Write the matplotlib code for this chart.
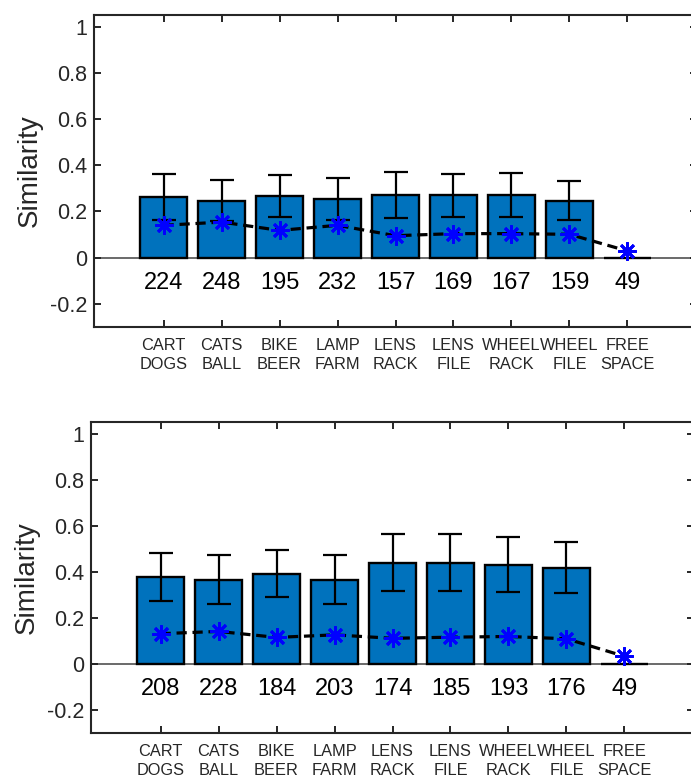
import matplotlib
matplotlib.use("Agg")
import matplotlib.pyplot as plt
import numpy as np

plt.rcParams['font.family'] = ['Liberation Sans', 'DejaVu Sans']

categories = ["CART\nDOGS", "CATS\nBALL", "BIKE\nBEER", "LAMP\nFARM", "LENS\nRACK",
              "LENS\nFILE", "WHEEL\nRACK", "WHEEL\nFILE", "FREE\nSPACE"]

top_means = [0.263, 0.247, 0.266, 0.253, 0.271, 0.271, 0.271, 0.247, 0.0]
top_err = [0.098, 0.088, 0.092, 0.090, 0.100, 0.093, 0.095, 0.083, 0.0]
top_stars = [0.140, 0.154, 0.118, 0.140, 0.095, 0.104, 0.104, 0.101, 0.029]
top_counts = [224, 248, 195, 232, 157, 169, 167, 159, 49]

bot_means = [0.378, 0.366, 0.391, 0.366, 0.440, 0.440, 0.431, 0.417, 0.0]
bot_err = [0.103, 0.105, 0.102, 0.105, 0.123, 0.122, 0.119, 0.110, 0.0]
bot_stars = [0.131, 0.141, 0.115, 0.126, 0.111, 0.116, 0.119, 0.109, 0.033]
bot_counts = [208, 228, 184, 203, 174, 185, 193, 176, 49]

yticks = [-0.2, 0, 0.2, 0.4, 0.6, 0.8, 1]
yticklabels = ["-0.2", "0", "0.2", "0.4", "0.6", "0.8", "1"]

W, H = 691, 781
fig = plt.figure(figsize=(W / 100, H / 100), dpi=100)

axc = '#262626'


def panel(rect, means, err, stars, counts):
    ax = fig.add_axes(rect)
    x = np.arange(1, len(categories) + 1)
    nbar = len(categories) - 1
    ax.bar(x, means, width=0.8, color='#0072BD', edgecolor='black', linewidth=1.7, zorder=2)
    ax.errorbar(x[:nbar], means[:nbar], yerr=err[:nbar], fmt='none', ecolor='black',
                elinewidth=1.6, capsize=8.5, capthick=1.6, zorder=3)
    ax.plot(x, stars, color='black', lw=2.3, linestyle=(0, (3.2, 1.8)), zorder=4)
    ax.plot(x, stars, linestyle='none', marker=(8, 2, 0), markersize=13, color='#0000FF',
            markeredgecolor='#0000FF', markeredgewidth=2.0, zorder=5)
    ax.axhline(0, color='#505050', lw=1.2, zorder=1)
    for xi, c in zip(x, counts):
        ax.text(xi, -0.108, str(c), ha='center', va='center', fontsize=17, color='black')
    ax.set_xlim(-0.2, 10.2)
    ax.set_ylim(-0.3, 1.05)
    ax.set_xticks(x)
    ax.set_xticklabels(categories, fontsize=11.8, color=axc, linespacing=1.3)
    ax.set_yticks(yticks)
    ax.set_yticklabels(yticklabels, fontsize=15.5, color=axc)
    ax.tick_params(direction='in', top=True, right=True, length=5, width=1.4, color=axc)
    ax.tick_params(axis='x', pad=8)
    ax.tick_params(axis='y', pad=5)
    for s in ax.spines.values():
        s.set_linewidth(1.5)
        s.set_color(axc)
    ax.set_ylabel('Similarity', fontsize=20, color=axc, labelpad=5)
    return ax


ax1 = panel([94 / W, 1 - 327 / H, 603 / W, 312 / H], top_means, top_err, top_stars, top_counts)
ax2 = panel([91 / W, 1 - 733 / H, 603 / W, 311 / H], bot_means, bot_err, bot_stars, bot_counts)

fig.savefig('out.png', dpi=100)
